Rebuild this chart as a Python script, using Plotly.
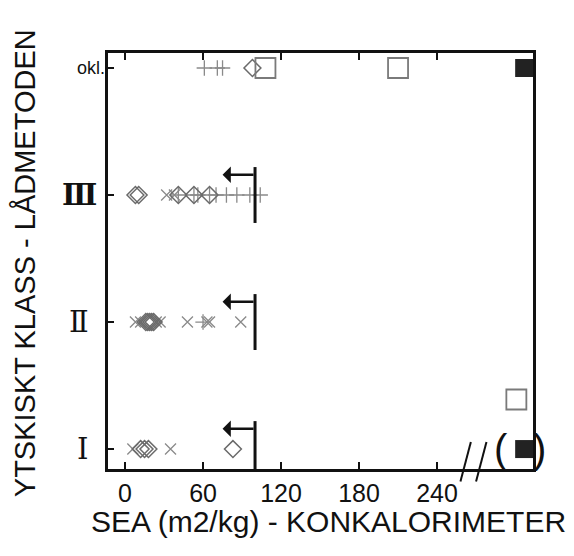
import plotly.graph_objects as go

# ---- data ----
row_labels = ["Ⅰ", "Ⅱ", "<b>Ⅲ</b>", "okl."]
row_values = [1, 2, 3, 4]
x_ticks = [0, 60, 120, 180, 240]

diamond_x = [12, 15, 18, 83, 16, 17.5, 19, 20.5, 22, 8, 10.5, 41, 53, 65, 98]
diamond_y = [1, 1, 1, 1, 2, 2, 2, 2, 2, 3, 3, 3, 3, 3, 4]
cross_x = [6, 35, 8, 12, 24, 27, 48, 63, 65, 89, 32, 38]
cross_y = [1, 1, 2, 2, 2, 2, 2, 2, 2, 2, 3, 3]
plus_x = [60, 41, 53, 56, 65, 70, 78, 86, 96, 104, 61, 71, 75]
plus_y = [2, 3, 3, 3, 3, 3, 3, 3, 3, 3, 4, 4, 4]
square_x = [301, 108, 210]
square_y = [1.39, 4, 4]
filled_x = [307, 307]
filled_y = [1, 4]

limit_x = 100        # vertical limit line (arrows point left from here)
arrow_tip_x = 75
arrow_rows = [1, 2, 3]
break_x = [262, 274]  # axis break slashes

# ---- figure ----
fig = go.Figure()
fig.add_trace(go.Scatter(x=cross_x, y=cross_y, mode="markers",
                         marker=dict(symbol="x-thin", size=11,
                                     line=dict(color="#8a8a8a", width=1.3))))
fig.add_trace(go.Scatter(x=plus_x, y=plus_y, mode="markers",
                         marker=dict(symbol="cross-thin", size=11,
                                     line=dict(color="#8a8a8a", width=1.3))))
fig.add_trace(go.Scatter(x=diamond_x, y=diamond_y, mode="markers",
                         marker=dict(symbol="diamond-open", size=13,
                                     color="#6a6a6a", line=dict(width=1.5))))
fig.add_trace(go.Scatter(x=square_x, y=square_y, mode="markers",
                         marker=dict(symbol="square-open", size=20,
                                     color="#7a7a7a", line=dict(width=1.8))))
fig.add_trace(go.Scatter(x=filled_x, y=filled_y, mode="markers",
                         marker=dict(symbol="square", size=18, color="#222222",
                                     line=dict(width=0))))

shapes = []
annotations = []
for r in arrow_rows:
    shapes.append(dict(type="line", xref="x", yref="y", x0=limit_x, x1=limit_x,
                       y0=r - 0.22, y1=r + 0.22, line=dict(color="#111", width=3)))
    annotations.append(dict(x=arrow_tip_x, y=r + 0.16, ax=limit_x, ay=r + 0.16,
                            xref="x", yref="y", axref="x", ayref="y", text="",
                            showarrow=True, arrowhead=1, arrowsize=1.1,
                            arrowwidth=2.5, arrowcolor="#111"))

# axis break slashes
for bx in break_x:
    shapes.append(dict(type="line", xref="x", yref="paper", x0=bx - 4, x1=bx + 4,
                       y0=-0.03, y1=0.065, line=dict(color="#111", width=2)))

# parentheses around filled square in row I
annotations.append(dict(x=1, y=filled_y[0], xref="paper", yref="y", xshift=-23,
                        text="(", showarrow=False,
                        font=dict(family="Liberation Sans", size=40, color="#111")))
annotations.append(dict(x=1, y=filled_y[0], xref="paper", yref="y", xshift=15,
                        text=")", showarrow=False,
                        font=dict(family="Liberation Sans", size=40, color="#111")))

# y category labels
label_shift = [-26, -29, -29, -17]
for lab, val, sh in zip(row_labels, row_values, label_shift):
    if lab == "okl.":
        f = dict(family="Liberation Sans", size=18, color="#111")
    else:
        f = dict(family="DejaVu Serif", size=29, color="#111")
    annotations.append(dict(x=0, y=val, xref="paper", yref="y", text=lab,
                            xshift=sh, showarrow=False, xanchor="center",
                            yanchor="middle", font=f))

# axis titles
annotations.append(dict(x=0.518, y=-0.125, xref="paper", yref="paper",
                        text="SEA (m2/kg) - KONKALORIMETER", showarrow=False,
                        xanchor="center", yanchor="middle",
                        font=dict(family="Liberation Sans", size=30, color="#111")))
annotations.append(dict(x=-0.195, y=0.495, xref="paper", yref="paper",
                        text="YTSKISKT KLASS - LÅDMETODEN", showarrow=False,
                        textangle=-90, xanchor="center", yanchor="middle",
                        font=dict(family="Liberation Sans", size=29, color="#111")))

fig.update_layout(
    width=566, height=548,
    margin=dict(l=100, r=41, t=45, b=87),
    paper_bgcolor="white", plot_bgcolor="white",
    showlegend=False,
    shapes=shapes, annotations=annotations,
    xaxis=dict(range=[-13.1, 313.8], tickvals=x_ticks, ticks="inside", ticklen=7,
               tickwidth=2, tickcolor="#111", showline=True, linewidth=2.5,
               linecolor="#111", mirror="allticks", showgrid=False, zeroline=False,
               tickfont=dict(family="Liberation Sans", size=25, color="#111")),
    yaxis=dict(range=[0.843, 4.118], tickvals=row_values, ticks="inside", ticklen=6,
               tickwidth=2, tickcolor="#111", showticklabels=False, showline=True,
               linewidth=2.5, linecolor="#111", mirror=True, showgrid=False,
               zeroline=False),
)

fig.write_html("out.html")
